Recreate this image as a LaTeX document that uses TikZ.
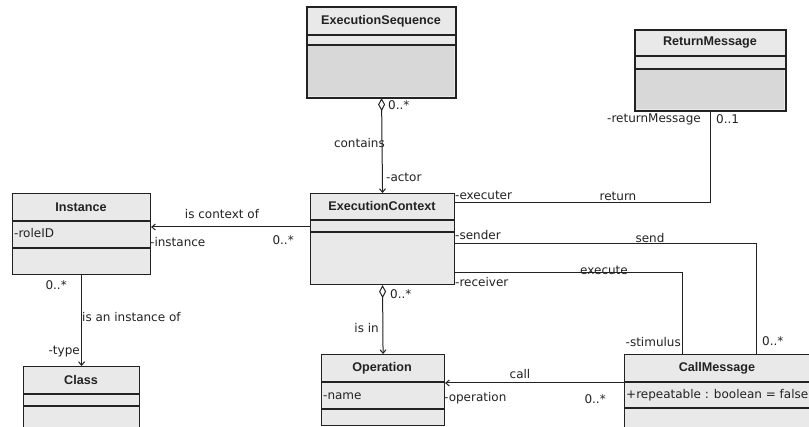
\documentclass[tikz,border=0pt]{standalone}
\usepackage{fontspec}
\setmainfont{DejaVu Sans}
\newfontfamily\titlefont{Liberation Sans}
\usetikzlibrary{arrows.meta}

\definecolor{inkc}{HTML}{222222}
\definecolor{boxfill}{HTML}{E9E9E9}
\definecolor{boxdark}{HTML}{D8D8D8}

\tikzset{
  umlbox/.style={draw=inkc, line width=1.1pt, fill=boxfill, rectangle,
    inner sep=0pt, anchor=north west},
  sepline/.style={draw=inkc, line width=1.1pt},
  ctitle/.style={font=\titlefont\bfseries\fontsize{12.6}{14}\selectfont, text=inkc, inner sep=0pt},
  attr/.style={font=\fontsize{12}{14}\selectfont, text=inkc, inner sep=0pt, anchor=west},
  lbl/.style={font=\fontsize{12}{14}\selectfont, text=inkc, inner sep=0pt},
  assoc/.style={draw=inkc, line width=1pt},
  nav/.style={-{Straight Barb[length=3.5pt,width=6pt]}},
  aggr/.style={{Diamond[open,length=13pt,width=7pt,line width=1pt]}-{Straight Barb[length=3.5pt,width=6pt]}},
}

\begin{document}
\begin{tikzpicture}[x=1pt, y=-1pt]
\clip (0,0) rectangle (809,427);
\fill[white] (0,0) rectangle (809,427);

% ---- ExecutionSequence
\node[umlbox, minimum width=148pt, minimum height=90pt] (seq) at (307,7) {};
\fill[boxdark] (308,46) rectangle (454,96);
\draw[sepline] (307,35) -- (455,35);
\draw[sepline] (307,45) -- (455,45);
\draw[draw=inkc, line width=1.1pt] (seq.north west) rectangle (seq.south east);
\node[ctitle] (seqt) at (381,21) {ExecutionSequence};

% ---- ReturnMessage
\node[umlbox, minimum width=150pt, minimum height=80pt] (ret) at (635,30) {};
\fill[boxdark] (636,70) rectangle (784,109);
\draw[sepline] (635,56) -- (785,56);
\draw[sepline] (635,69) -- (785,69);
\draw[draw=inkc, line width=1.1pt] (ret.north west) rectangle (ret.south east);
\node[ctitle] (rett) at (710,43) {ReturnMessage};

% ---- Instance
\node[umlbox, minimum width=138pt, minimum height=81pt] (inst) at (12,193) {};
\draw[sepline] (12,221) -- (150,221);
\draw[sepline] (12,248) -- (150,248);
\node[ctitle] (instt) at (81,207) {Instance};
\node[attr] (insta) at (14,233) {-roleID};

% ---- ExecutionContext
\node[umlbox, minimum width=144pt, minimum height=91pt] (ctx) at (310,193) {};
\draw[sepline] (310,220) -- (454,220);
\draw[sepline] (310,232) -- (454,232);
\node[ctitle] (ctxt) at (382,206) {ExecutionContext};

% ---- Class
\node[umlbox, minimum width=116pt, minimum height=64pt] (cls) at (23,366) {};
\draw[sepline] (23,394) -- (139,394);
\draw[sepline] (23,406) -- (139,406);
\node[ctitle] (clst) at (81,380) {Class};

% ---- Operation
\node[umlbox, minimum width=123pt, minimum height=71pt] (op) at (321,354) {};
\draw[sepline] (321,382) -- (444,382);
\draw[sepline] (321,409) -- (444,409);
\node[ctitle] (opt) at (382,368) {Operation};
\node[attr] (opa) at (323,396) {-name};

% ---- CallMessage
\node[umlbox, minimum width=187pt, minimum height=75pt] (cm) at (624,354) {};
\draw[sepline] (624,382) -- (811,382);
\draw[sepline] (624,408) -- (811,408);
\node[ctitle] (cmt) at (717,368) {CallMessage};
\node[attr] (cma) at (626,395) {+repeatable : boolean = false};

% ---- Associations
\draw[assoc, aggr] (seq.south) -- (ctx.north);
\node[lbl, anchor=east] (l1) at (385,143) {contains};
\node[lbl, anchor=west] (l2) at (386,177) {-actor};
\node[lbl, anchor=west] (l3) at (388,105) {0..*};

\draw[assoc] (ctx.east |- 0,203) -| (ret.south);
\node[lbl, anchor=east] (l4) at (701,119) {-returnMessage};
\node[lbl, anchor=west] (l5) at (716,119) {0..1};
\node[lbl] (l6) at (618,196) {return};
\node[lbl, anchor=west] (l7) at (455,195) {-executer};

\draw[assoc, nav] (ctx.west |- 0,227) -- (inst.east |- 0,227);
\node[lbl] (l8) at (222,214) {is context of};
\node[lbl, anchor=west] (l9) at (150,242) {-instance};
\node[lbl, anchor=east] (l10) at (294,240) {0..*};

\coordinate (sendend) at (756,0);
\draw[assoc] (ctx.east |- 0,244) -| (sendend |- cm.north);
\node[lbl, anchor=west] (l11) at (455,235) {-sender};
\node[lbl] (l12) at (650,238) {send};
\node[lbl, anchor=west] (l13) at (762,341) {0..*};

\coordinate (execend) at (682,0);
\draw[assoc] (ctx.east |- 0,273) -| (execend |- cm.north);
\node[lbl, anchor=west] (l14) at (455,282) {-receiver};
\node[lbl] (l15) at (604,270) {execute};
\node[lbl, anchor=east] (l16) at (681,342) {-stimulus};

\draw[assoc, aggr] (ctx.south) -- (op.north);
\node[lbl, anchor=west] (l17) at (390,294) {0..*};
\node[lbl, anchor=east] (l18) at (379,328) {is in};

\draw[assoc, nav] (inst.south) -- (cls.north);
\node[lbl, anchor=east] (l19) at (67,285) {0..*};
\node[lbl, anchor=west] (l20) at (82,317) {is an instance of};
\node[lbl, anchor=east] (l21) at (80,352) {-type};

\draw[assoc, nav] (cm.west |- 0,383) -- (op.east |- 0,383);
\node[lbl] (l22) at (520,374) {call};
\node[lbl, anchor=west] (l23) at (444,398) {-operation};
\node[lbl, anchor=east] (l24) at (606,399) {0..*};
\end{tikzpicture}
\end{document}
